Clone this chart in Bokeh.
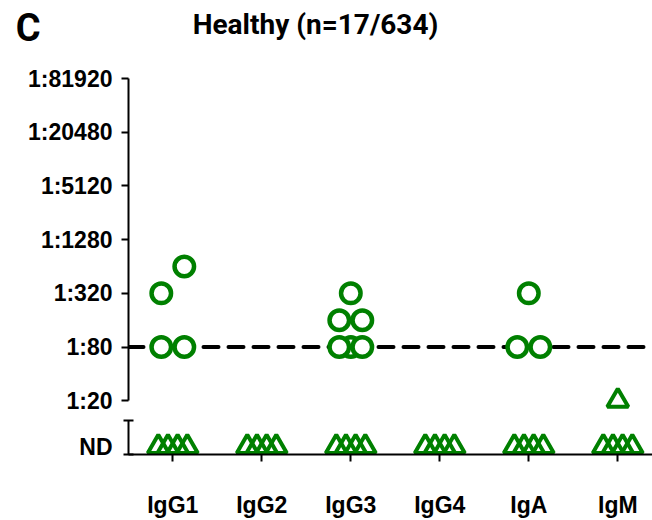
import math
from collections import Counter
from bokeh.plotting import figure
from bokeh.models import Range1d, FixedTicker, Span, Label, ColumnDataSource
from bokeh.layouts import column
from bokeh.embed import file_html
from bokeh.resources import INLINE

# ---------------- data ----------------
groups = ["IgG1", "IgG2", "IgG3", "IgG4", "IgA", "IgM"]
titer_ticks = [20, 80, 320, 1280, 5120, 20480, 81920]
tick_labels = ["1:20", "1:80", "1:320", "1:1280", "1:5120", "1:20480", "1:81920"]
cutoff_titer = 80
igg1_titers = [80, 80, 320, 640]
igg2_titers = []
igg3_titers = [80, 80, 80, 160, 160, 320]
igg4_titers = []
iga_titers = [80, 80, 320]
igm_titers = [20]
nd_counts = [4, 4, 4, 4, 4, 4]
title_text = "Healthy (n=17/634)"
panel_letter = "C"

positives = [igg1_titers, igg2_titers, igg3_titers, igg4_titers, iga_titers, igm_titers]

# ---------------- layout / style ----------------
GREEN = "#008000"
FONT = "Liberation Sans"
TITLE_FONT = "Roboto"
W, H = 652, 520
LEFT, TOP, BOTTOM = 128, 78, 66
HEAD = 55                          # height of the heading strip
BREAK_Y = 415                      # pixel row where the y axis is broken
LEVEL_MIN, LEVEL_MAX = -1.0, 6.0
PPL = (H - TOP - BOTTOM) / (LEVEL_MAX - LEVEL_MIN)   # px per level
ND_LEVEL = -0.86
CAP_LEVEL = -0.36
PX_PER_X = 89.0
X0 = 1 - 44.3 / PX_PER_X
X1 = X0 + (W - LEFT) / PX_PER_X

CIRCLE_SIZE, CIRCLE_LW = 19.5, 4.5
TRI_SIZE, TRI_LW = 21, 4
DIAM = 23.5
PAIR_GAP = 29.6


def level(t):
    return math.log(t / titer_ticks[0]) / math.log(4)


def swarm(levels):
    cnt = Counter(levels)
    rows = [[lv] * cnt[lv] for lv in sorted(cnt)]
    merged = []
    for r in rows:
        if (merged and len(r) == 1 and len(merged[-1]) == 1
                and (r[0] - merged[-1][0]) * PPL < 1.5 * DIAM):
            merged[-1] = merged[-1] + r
        else:
            merged.append(r)
    out = []
    for r in merged:
        n = len(r)
        tri = r[0] < level(cutoff_titer)
        max_spread = 29.0 if tri else 23.0
        sp = 0 if n == 1 else min(PAIR_GAP, max_spread / (n - 1))
        pts = [((i - (n - 1) / 2) * sp, lv) for i, lv in enumerate(r)]
        pts.sort(key=lambda p: abs(p[0]))
        out.extend(pts)
    return out


upper = dict(x=[], y=[], marker=[], size=[], lw=[], fa=[])
lower = dict(x=[], y=[], marker=[], size=[], lw=[], fa=[])
for gi, titers in enumerate(positives):
    lvls = [level(t) for t in titers] + [ND_LEVEL] * nd_counts[gi]
    for off, lv in swarm(lvls):
        d = lower if lv < 0 else upper
        is_circle = lv >= level(cutoff_titer)
        d["x"].append(gi + 1 + off / PX_PER_X)
        d["y"].append(lv)
        d["marker"].append("circle" if is_circle else "triangle")
        d["size"].append(CIRCLE_SIZE if is_circle else TRI_SIZE)
        d["lw"].append(CIRCLE_LW if is_circle else TRI_LW)
        d["fa"].append(1.0 if is_circle else 0.0)

xr = Range1d(X0, X1)

# ---------------- heading strip ----------------
p0 = figure(width=W, height=HEAD, x_range=Range1d(0, 1), y_range=Range1d(0, 1),
            output_backend="svg", toolbar_location=None, title=None,
            x_axis_location=None, y_axis_location="left",
            min_border_left=LEFT, min_border_right=0, min_border_top=0, min_border_bottom=0)
p0.add_layout(Label(x=315 - LEFT, y=HEAD - 24, x_units="screen", y_units="screen",
                    text=title_text, text_align="center", text_baseline="alphabetic",
                    text_font=TITLE_FONT, text_font_style="bold", text_font_size="28px",
                    text_color="black"))
ca = p0.yaxis[0]
ca.ticker = FixedTicker(ticks=[], minor_ticks=[])
ca.axis_line_color = None
ca.major_tick_line_color = None
ca.minor_tick_line_color = None
ca.axis_label = panel_letter
ca.axis_label_orientation = "horizontal"
ca.axis_label_standoff = 88
ca.axis_label_text_font = TITLE_FONT
ca.axis_label_text_font_style = "bold"
ca.axis_label_text_font_size = "38px"
ca.axis_label_text_color = "black"

# ---------------- panels ----------------
h1 = BREAK_Y - HEAD
p1 = figure(width=W, height=h1, x_range=xr,
            y_range=Range1d(LEVEL_MAX - (BREAK_Y - TOP) / PPL,
                            LEVEL_MAX + (TOP - HEAD) / PPL),
            output_backend="svg", toolbar_location=None, title=None,
            x_axis_location=None, min_border_left=LEFT, min_border_right=0,
            min_border_top=0, min_border_bottom=0)
p2 = figure(width=W, height=H - BREAK_Y, x_range=xr,
            y_range=Range1d(LEVEL_MIN, LEVEL_MIN + (H - BREAK_Y - BOTTOM) / PPL),
            output_backend="svg", toolbar_location=None, title=None,
            min_border_left=LEFT, min_border_right=0,
            min_border_top=0, min_border_bottom=BOTTOM)

for p in (p0, p1, p2):
    p.outline_line_color = None
    p.grid.visible = False
    p.background_fill_color = "white"
    p.border_fill_color = "white"

cut = Span(location=level(cutoff_titer), dimension="width", line_color="black",
           line_width=4, line_dash="15 10", line_cap="round", level="underlay")
p1.add_layout(cut)

tick_lv = [level(t) for t in titer_ticks]
ya = p1.yaxis[0]
ya.ticker = FixedTicker(ticks=tick_lv, minor_ticks=[])
ya.major_label_overrides = {lv: lab for lv, lab in zip(tick_lv, tick_labels)}
ya.bounds = (tick_lv[0], tick_lv[-1])

yb = p2.yaxis[0]
yb.ticker = FixedTicker(ticks=[ND_LEVEL], minor_ticks=[LEVEL_MIN, CAP_LEVEL])
yb.major_label_overrides = {ND_LEVEL: "ND"}
yb.bounds = (LEVEL_MIN, CAP_LEVEL)
yb.major_tick_line_color = None
yb.minor_tick_in = 5
yb.minor_tick_out = 5
yb.minor_tick_line_width = 2
yb.minor_tick_line_color = "black"

for ax in (ya, yb):
    ax.axis_line_width = 2
    ax.axis_line_color = "black"
    ax.major_tick_out = 7
    ax.major_tick_in = 0
    ax.major_label_standoff = 9
    ax.major_label_text_font = FONT
    ax.major_label_text_font_style = "bold"
    ax.major_label_text_font_size = "23px"
    ax.major_label_text_color = "black"
ya.major_tick_line_width = 2
ya.minor_tick_line_color = None

xa = p2.xaxis[0]
xa.ticker = FixedTicker(ticks=list(range(1, len(groups) + 1)), minor_ticks=[])
xa.major_label_overrides = {i + 1: g for i, g in enumerate(groups)}
xa.axis_line_width = 2
xa.major_tick_line_width = 2
xa.major_tick_out = 7
xa.major_tick_in = 0
xa.minor_tick_line_color = None
xa.major_label_standoff = 30
xa.major_label_text_font = FONT
xa.major_label_text_font_style = "bold"
xa.major_label_text_font_size = "23px"
xa.major_label_text_color = "black"

p1.scatter("x", "y", marker="marker", size="size", line_width="lw",
           line_color=GREEN, fill_color="white", fill_alpha="fa",
           source=ColumnDataSource(upper))
p2.scatter("x", "y", marker="marker", size="size", line_width="lw",
           line_color=GREEN, fill_color="white", fill_alpha="fa",
           source=ColumnDataSource(lower))

layout = column(p0, p1, p2, spacing=0)
open("out.html", "w").write(file_html(layout, INLINE))
